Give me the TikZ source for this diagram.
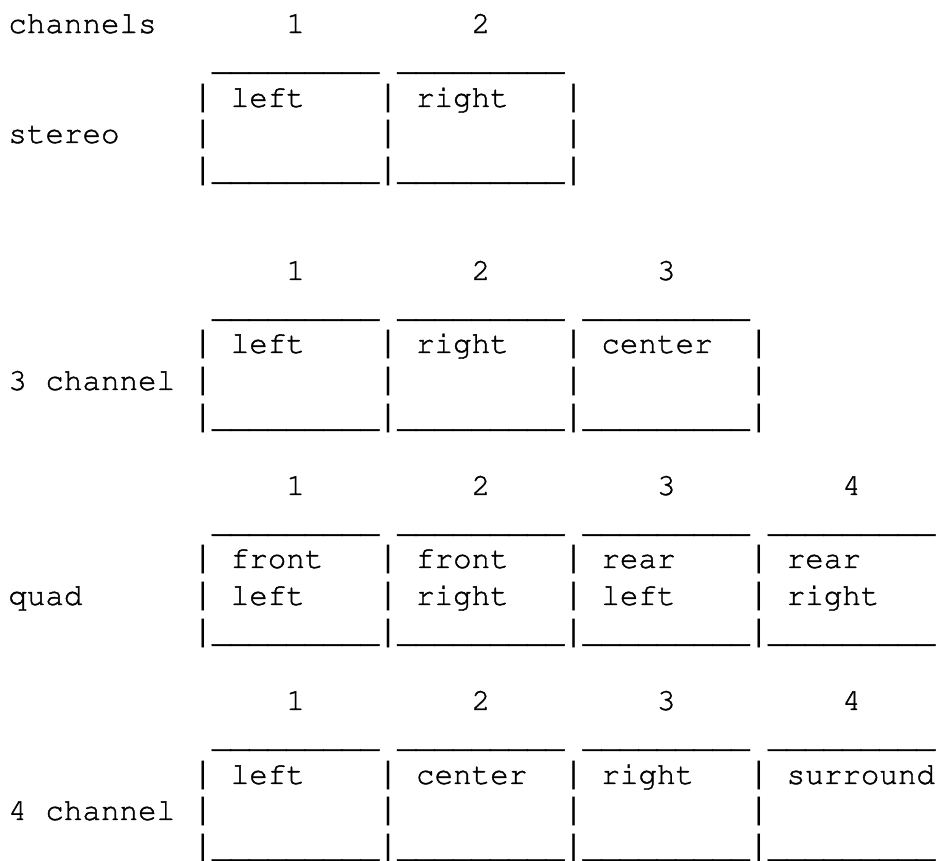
\documentclass[tikz,border=0pt]{standalone}
\usepackage[T1]{fontenc}
\usepackage{fontspec}
\usepackage{tikz}
\usetikzlibrary{positioning}
\newfontfamily\monobar{Liberation Mono}
\newcommand{\asciifont}{\fontencoding{T1}\fontfamily{pcr}\fontseries{m}\fontshape{n}\fontsize{23.17}{27}\selectfont}
\newcommand{\barfont}{\monobar\fontsize{23.17}{27}\selectfont}
\newcommand{\lowline}{\_\_\_\_\_\_\_\_\_}

\begin{document}
\begin{tikzpicture}[x=13.9pt, y=-0.75pt]
        \tikzset{
            ascii/.style={anchor=base west, inner sep=0pt, outer sep=0pt, font=\asciifont, execute at begin node=\special{pdf:code 2 Tr 0.3 w}, execute at end node=\special{pdf:code 0 Tr}},
            bar/.style={anchor=base west, inner sep=0pt, outer sep=0pt, font=\barfont}
        }
        \useasboundingbox (-0.45,0) rectangle (50.11,861);

        \node[ascii] (head) at (0,33) {channels};
        \node[ascii] (stereo) at (0,143) {stereo};
        \foreach \w [count=\i] in {left,right} {
            \node[ascii] (st-num\i) at ({5+10*\i},33) {\i};
            \node[ascii] (st-top\i) at ({1+10*\i},70) {\lowline};
            \node[ascii] (st-word\i) at ({2+10*\i},107) {\w};
            \node[ascii] (st-bot\i) at ({1+10*\i},180) {\lowline};
        }
        \foreach \i in {1,2,3}
            \foreach \y in {107,143,180}
                \node[bar] (st-bar\i-\y) at ({10*\i},\y) {|};

        \node[ascii] (three) at (0,390) {3 channel};
        \foreach \w [count=\i] in {left,right,center} {
            \node[ascii] (th-num\i) at ({5+10*\i},280) {\i};
            \node[ascii] (th-top\i) at ({1+10*\i},317) {\lowline};
            \node[ascii] (th-word\i) at ({2+10*\i},353) {\w};
            \node[ascii] (th-bot\i) at ({1+10*\i},427) {\lowline};
        }
        \foreach \i in {1,2,3,4}
            \foreach \y in {353,390,427}
                \node[bar] (th-bar\i-\y) at ({10*\i},\y) {|};

        \node[ascii] (quad) at (0,605) {quad};
        \foreach \a/\b [count=\i] in {front/left,front/right,rear/left,rear/right} {
            \node[ascii] (qd-num\i) at ({5+10*\i},495) {\i};
            \node[ascii] (qd-top\i) at ({1+10*\i},532) {\lowline};
            \node[ascii] (qd-upper\i) at ({2+10*\i},568) {\a};
            \node[ascii] (qd-lower\i) at ({2+10*\i},605) {\b};
            \node[ascii] (qd-bot\i) at ({1+10*\i},642) {\lowline};
            \foreach \y in {568,605,642}
                \node[bar] (qd-bar\i-\y) at ({10*\i},\y) {|};
        }

        \node[ascii] (four) at (0,820) {4 channel};
        \foreach \w [count=\i] in {left,center,right,surround} {
            \node[ascii] (fr-num\i) at ({5+10*\i},710) {\i};
            \node[ascii] (fr-top\i) at ({1+10*\i},747) {\lowline};
            \node[ascii] (fr-word\i) at ({2+10*\i},784) {\w};
            \node[ascii] (fr-bot\i) at ({1+10*\i},857) {\lowline};
            \foreach \y in {784,820,857}
                \node[bar] (fr-bar\i-\y) at ({10*\i},\y) {|};
        }

    \end{tikzpicture}
\end{document}
